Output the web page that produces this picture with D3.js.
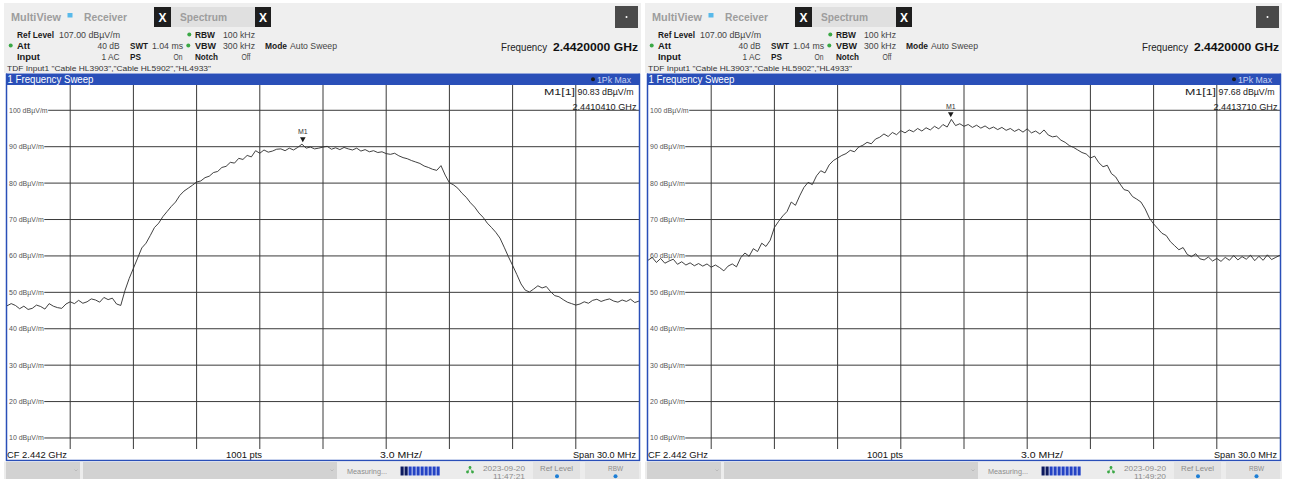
<!DOCTYPE html>
<html>
<head>
<meta charset="utf-8">
<script src="https://cdn.jsdelivr.net/npm/d3@7"></script>
<style>
  html, body { margin: 0; padding: 0; background: #ffffff; overflow: hidden; }
  svg { display: block; }
  text { font-family: "Liberation Sans", Arial, sans-serif; }
</style>
</head>
<body>
<svg id="chart" width="1291" height="479"></svg>
<script>
// ---- Sweep settings ----
const startFreqGHz = 2.427;
const stopFreqGHz = 2.457;
const sweepStepGHz = 0.0002;          // trace sample spacing (151 samples over 30 MHz)
const refLevel = 107;                 // dBµV/m, top of the grid
const levelRange = 100;               // dB shown over 10 divisions
const levelTicks = [100, 90, 80, 70, 60, 50, 40, 30, 20, 10];
const freqDivisions = d3.range(1, 10); // vertical grid lines between the edges

// ---- Trace 1: first sweep (dBµV/m) ----
const traceA = [
  46.3, 46.9, 46.4, 45.5, 46.2, 45.3, 45.6, 46.5, 46.1, 45.4,
  46.9, 46.2, 45.8, 45.6, 46.8, 47.4, 46.9, 47.8, 47.0, 47.4,
  48.2, 47.9, 47.3, 48.6, 48.0, 48.4, 46.8, 46.4, 50.5, 53.8,
  56.6, 59.4, 62.2, 63.5, 65.6, 67.8, 69.0, 70.8, 72.2, 73.6,
  74.8, 76.6, 77.8, 78.6, 79.4, 80.3, 80.6, 81.5, 81.9, 82.9,
  83.2, 84.3, 84.6, 85.7, 85.5, 86.8, 86.5, 87.6, 87.2, 88.9,
  88.2, 89.1, 88.5, 88.8, 89.3, 89.4, 88.9, 89.6, 89.1, 89.8,
  90.7, 89.6, 89.9, 89.4, 89.6, 89.9, 90.1, 89.3, 89.7, 89.2,
  89.8, 89.4, 89.1, 89.6, 88.8, 89.2, 88.6, 88.9, 88.4, 88.6,
  88.1, 87.9, 88.2, 87.5, 87.0, 86.7, 86.2, 85.8, 85.4, 84.7,
  84.3, 83.8, 83.5, 84.8, 82.2, 80.1, 79.5, 78.6, 77.2, 76.1,
  74.6, 73.4, 71.8, 70.6, 69.0, 67.8, 66.5, 64.9, 62.4, 59.8,
  57.4, 54.9, 52.3, 50.6, 50.1, 50.9, 51.8, 51.2, 51.6, 50.2,
  49.1, 48.8, 48.0, 47.3, 46.9, 46.5, 46.8, 47.4, 47.0, 47.8,
  48.1, 47.5, 47.9, 48.2, 47.6, 47.3, 47.9, 47.5, 48.1, 47.2,
  47.6
];

// ---- Trace 2: second sweep (dBµV/m) ----
const traceB = [
  58.8, 59.6, 58.2, 59.3, 58.0, 58.6, 59.1, 57.7, 58.4, 57.5,
  58.1, 57.3, 57.9, 57.2, 57.8, 56.9, 57.5, 56.8, 55.9, 57.2,
  57.8, 57.0, 59.5, 60.8, 59.9, 62.0, 61.2, 63.5, 62.6, 64.3,
  67.8, 69.5, 71.0, 72.2, 74.8, 73.9, 76.5, 78.8, 80.2, 79.6,
  82.0, 83.4, 82.8, 85.0, 86.2, 86.9, 87.6, 88.1, 89.0, 88.6,
  89.9, 90.4, 91.2, 90.8, 92.1, 92.6, 93.5, 92.8, 93.9, 93.3,
  94.4, 93.8, 94.6, 94.1, 95.0, 94.3, 95.2, 94.6, 95.6, 94.9,
  96.1, 95.4, 97.5, 95.8, 96.3, 95.6, 96.1, 95.3, 95.9, 95.1,
  95.7, 94.9, 95.4, 94.7, 95.3, 94.5, 95.0, 94.2, 94.8, 94.0,
  94.9, 93.8, 94.3, 93.5, 94.6, 93.2, 92.7, 92.9, 91.8, 91.2,
  90.3, 89.8, 89.1, 88.4, 88.0, 86.9, 87.4, 85.6, 84.5, 84.9,
  82.6, 81.7, 79.8, 78.2, 77.9, 76.3, 75.6, 74.8, 72.9, 70.4,
  68.8, 67.5, 66.2, 65.6, 63.9, 62.8, 61.7, 62.3, 60.4, 59.8,
  60.6, 59.2, 58.9, 59.7, 58.6, 59.3, 58.5, 59.6, 58.8, 60.1,
  58.9, 59.8, 59.1, 60.2, 58.7, 59.9, 58.8, 60.3, 59.0, 59.6,
  60.2
];

// ---- Marker readouts ----
const markerFreqGHz = [2.4410410, 2.4413710];
const markerLevel = [90.83, 97.68];
const markerFreqText = ["2.4410410 GHz", "2.4413710 GHz"];
const markerLevelText = ["90.83 dBµV/m", "97.68 dBµV/m"];

// ---- Status line ----
const sweepDate = ["2023-09-20", "2023-09-20"];
const sweepTime = ["11:47:21", "11:49:20"];
const panelOffsets = [0, 641];

const BLUE = "#2a4fb8";
const svg = d3.select("#chart");

function label(g, x, y, str, o = {}) {
  const t = g.append("text")
    .attr("x", x).attr("y", y)
    .attr("font-size", o.size || 9)
    .attr("font-weight", o.bold ? "bold" : "normal")
    .attr("fill", o.fill || "#1a1a1a")
    .attr("text-anchor", o.anchor || "start")
    .text(str);
  if (o.len) t.attr("textLength", o.len).attr("lengthAdjust", "spacingAndGlyphs");
  if (o.family) t.attr("font-family", o.family);
  return t;
}

function drawPanel(p) {
  const g = svg.append("g").attr("transform", `translate(${panelOffsets[p]},0)`);
  const trace = p === 0 ? traceA : traceB;

  // --- header area ---
  g.append("rect").attr("x", 4).attr("y", 3).attr("width", 637).attr("height", 70).attr("fill", "#efefef");

  const tabFont = "DejaVu Sans, Verdana, sans-serif";
  label(g, 11, 21, "MultiView", { size: 11, bold: true, fill: "#9d9d9d", len: 50, family: tabFont });
  g.append("rect").attr("x", 67.5).attr("y", 13).attr("width", 5).attr("height", 4.5).attr("fill", "#58b9ea");
  label(g, 84, 21, "Receiver", { size: 11, bold: true, fill: "#9d9d9d", len: 43, family: tabFont });
  g.append("rect").attr("x", 154).attr("y", 7).attr("width", 17).attr("height", 20).attr("fill", "#1e1e1e");
  label(g, 162.5, 21.5, "X", { size: 12, bold: true, fill: "#ffffff", anchor: "middle", family: tabFont });
  g.append("rect").attr("x", 171).attr("y", 7).attr("width", 85).attr("height", 20).attr("fill", "#e0e0e0");
  label(g, 180, 21, "Spectrum", { size: 11, bold: true, fill: "#9d9d9d", len: 47, family: tabFont });
  g.append("rect").attr("x", 255).attr("y", 7).attr("width", 16).attr("height", 20).attr("fill", "#1e1e1e");
  label(g, 263, 21.5, "X", { size: 12, bold: true, fill: "#ffffff", anchor: "middle", family: tabFont });
  g.append("rect").attr("x", 615).attr("y", 6).attr("width", 23).attr("height", 22).attr("fill", "#4a4a4a");
  g.append("circle").attr("cx", 626.5).attr("cy", 17).attr("r", 1).attr("fill", "#ffffff");

  // setting readouts
  const dot = (x, y) => g.append("circle").attr("cx", x).attr("cy", y).attr("r", 2).attr("fill", "#3aa845");
  label(g, 17, 37.5, "Ref Level", { bold: true, len: 37 });
  label(g, 59, 37.5, "107.00 dBµV/m", { fill: "#444", len: 61 });
  dot(189.3, 34.5);
  label(g, 195, 37.5, "RBW", { bold: true, len: 20 });
  label(g, 223, 37.5, "100 kHz", { fill: "#444", len: 32 });

  dot(10.7, 45.5);
  label(g, 17, 48.5, "Att", { bold: true, len: 13 });
  label(g, 119.5, 48.5, "40 dB", { fill: "#444", anchor: "end", len: 22 });
  label(g, 130, 48.5, "SWT", { bold: true, len: 18 });
  label(g, 152, 48.5, "1.04 ms", { fill: "#444", len: 31 });
  dot(188.3, 45.5);
  label(g, 195, 48.5, "VBW", { bold: true, len: 21 });
  label(g, 223, 48.5, "300 kHz", { fill: "#444", len: 32 });
  label(g, 265, 48.5, "Mode", { bold: true, len: 22 });
  label(g, 290, 48.5, "Auto Sweep", { fill: "#444", len: 47 });

  label(g, 17, 59.5, "Input", { bold: true, len: 23 });
  label(g, 119.5, 59.5, "1 AC", { fill: "#444", anchor: "end", len: 18 });
  label(g, 130, 59.5, "PS", { bold: true, len: 11 });
  label(g, 182.5, 59.5, "On", { fill: "#444", anchor: "end", len: 9 });
  label(g, 195, 59.5, "Notch", { bold: true, len: 23 });
  label(g, 250.5, 59.5, "Off", { fill: "#444", anchor: "end", len: 9 });

  label(g, 7, 70.5, 'TDF Input1 "Cable HL3903","Cable HL5902","HL4933"', { size: 8, fill: "#333", len: 204 });

  label(g, 501, 51, "Frequency", { size: 10, fill: "#222", len: 46 });
  label(g, 553, 51, "2.4420000 GHz", { size: 11, bold: true, fill: "#111", len: 85 });

  // --- diagram title bar ---
  g.append("rect").attr("x", 6).attr("y", 73.5).attr("width", 633.5).attr("height", 11.5).attr("fill", BLUE);
  label(g, 7.5, 82.5, "1 Frequency Sweep", { size: 10, fill: "#ffffff", len: 86 });
  g.append("circle").attr("cx", 593).attr("cy", 79.3).attr("r", 2).attr("fill", "#1b1b1b");
  label(g, 597, 82.5, "1Pk Max", { size: 9, fill: "#c6cff2", len: 34 });

  // --- plot area ---
  const x = d3.scaleLinear().domain([startFreqGHz, stopFreqGHz]).range([7, 639]);
  const y = d3.scaleLinear().domain([refLevel - levelRange, refLevel]).range([448.9, 84.8]);

  g.append("rect").attr("x", 7).attr("y", 85).attr("width", 632).attr("height", 364).attr("fill", "#ffffff");

  const clipId = "plotclip" + p;
  g.append("clipPath").attr("id", clipId)
    .append("rect").attr("x", 7).attr("y", 85).attr("width", 632).attr("height", 364);

  const grid = g.append("g").attr("stroke", "#3a3a3a").attr("stroke-width", 1);
  const divW = (stopFreqGHz - startFreqGHz) / 10;
  freqDivisions.forEach(k => {
    const gx = x(startFreqGHz + k * divW);
    grid.append("line").attr("x1", gx).attr("x2", gx).attr("y1", 85).attr("y2", 449);
  });

  // level axis labels sit inside the grid, the line continues from the label end
  levelTicks.forEach(v => {
    const gy = y(v);
    const t = label(g, 9, gy + 2.5, `${v} dBµV/m`, { size: 7, fill: "#555" });
    const w = t.node().getComputedTextLength();
    grid.append("line").attr("x1", 9 + w + 0.5).attr("x2", 639).attr("y1", gy).attr("y2", gy);
  });

  // trace
  const line = d3.line()
    .x((d, i) => x(startFreqGHz + i * sweepStepGHz))
    .y(d => y(d));
  g.append("path")
    .datum(trace)
    .attr("clip-path", `url(#${clipId})`)
    .attr("fill", "none")
    .attr("stroke", "#2b2b2b")
    .attr("stroke-width", 0.9)
    .attr("stroke-linejoin", "round")
    .attr("d", line);

  // marker M1
  const mx = x(markerFreqGHz[p]);
  const my = y(markerLevel[p]);
  g.append("path")
    .attr("d", `M${mx - 2.8},${my - 6.5} L${mx + 2.8},${my - 6.5} L${mx},${my - 1.5} Z`)
    .attr("fill", "#1b1b1b");
  label(g, mx, my - 9.5, "M1", { size: 7, fill: "#333", anchor: "middle" });

  label(g, 544, 95, "M1[1]", { size: 9, fill: "#222", len: 31 });
  label(g, 577.5, 95, markerLevelText[p], { size: 9, fill: "#222", len: 56 });
  label(g, 636.5, 109.5, markerFreqText[p], { size: 9, fill: "#222", anchor: "end", len: 64 });

  // --- bottom scale bar ---
  g.append("rect").attr("x", 7).attr("y", 449).attr("width", 632).attr("height", 11).attr("fill", "#ffffff");
  label(g, 7, 458, "CF 2.442 GHz", { size: 9, fill: "#111", len: 60 });
  label(g, 226, 458, "1001 pts", { size: 9, fill: "#111", len: 36 });
  label(g, 380, 458, "3.0 MHz/", { size: 9, fill: "#111", len: 42 });
  label(g, 636, 458, "Span 30.0 MHz", { size: 9, fill: "#111", anchor: "end", len: 63 });

  // frame
  g.append("line").attr("x1", 6.5).attr("x2", 6.5).attr("y1", 73.5).attr("y2", 461).attr("stroke", BLUE).attr("stroke-width", 1.5);
  g.append("line").attr("x1", 639.5).attr("x2", 639.5).attr("y1", 73.5).attr("y2", 461).attr("stroke", BLUE).attr("stroke-width", 1.5);
  g.append("line").attr("x1", 6).attr("x2", 640).attr("y1", 460.5).attr("y2", 460.5).attr("stroke", BLUE).attr("stroke-width", 1.5);

  // --- status bar ---
  g.append("rect").attr("x", 4).attr("y", 461.5).attr("width", 637).attr("height", 18).attr("fill", "#ececec");
  g.append("rect").attr("x", 6).attr("y", 462).attr("width", 74).attr("height", 17).attr("fill", "#d2d2d2");
  g.append("rect").attr("x", 83).attr("y", 462).attr("width", 254).attr("height", 17).attr("fill", "#d2d2d2");
  [76, 332].forEach(cx => g.append("path")
    .attr("d", `M${cx - 1.5},${469.5} L${cx},${471} L${cx + 1.5},${469.5}`)
    .attr("fill", "none").attr("stroke", "#b4b4b4").attr("stroke-width", 0.8));

  label(g, 347, 473.5, "Measuring...", { size: 8, fill: "#8c8c8c", len: 40 });
  g.append("rect").attr("x", 400).attr("y", 466.5).attr("width", 40).attr("height", 9).attr("fill", "#ffffff");
  d3.range(10).forEach(k => {
    g.append("rect").attr("x", 400.5 + k * 4).attr("y", 466.5).attr("width", 3.2).attr("height", 9)
      .attr("fill", k < 2 ? "#0d1a5e" : "#2443c4");
  });

  [[470, 467.5], [467.5, 472], [472.5, 472]].forEach(([cx, cy]) =>
    g.append("circle").attr("cx", cx).attr("cy", cy).attr("r", 1.4).attr("fill", "#3aa845"));
  g.append("path").attr("d", "M470,468 L467.5,472 M470,468 L472.5,472")
    .attr("stroke", "#3aa845").attr("stroke-width", 0.6);

  label(g, 483, 470.5, sweepDate[p], { size: 8, fill: "#8c8c8c", len: 42 });
  label(g, 525, 478.5, sweepTime[p], { size: 8, fill: "#8c8c8c", anchor: "end", len: 32 });

  g.append("rect").attr("x", 533).attr("y", 462).attr("width", 47).attr("height", 17).attr("fill", "#e2e2e2");
  label(g, 540, 470.5, "Ref Level", { size: 8, fill: "#8c8c8c", len: 33 });
  g.append("circle").attr("cx", 557).attr("cy", 476.3).attr("r", 2).attr("fill", "#1d7fd6");
  g.append("rect").attr("x", 585).attr("y", 462).attr("width", 54).attr("height", 17).attr("fill", "#e2e2e2");
  label(g, 615.5, 470.5, "RBW", { size: 8, fill: "#8c8c8c", anchor: "middle", len: 15 });
  g.append("circle").attr("cx", 615.5).attr("cy", 476.3).attr("r", 2).attr("fill", "#1d7fd6");
}

drawPanel(0);
drawPanel(1);
</script>
</body>
</html>
